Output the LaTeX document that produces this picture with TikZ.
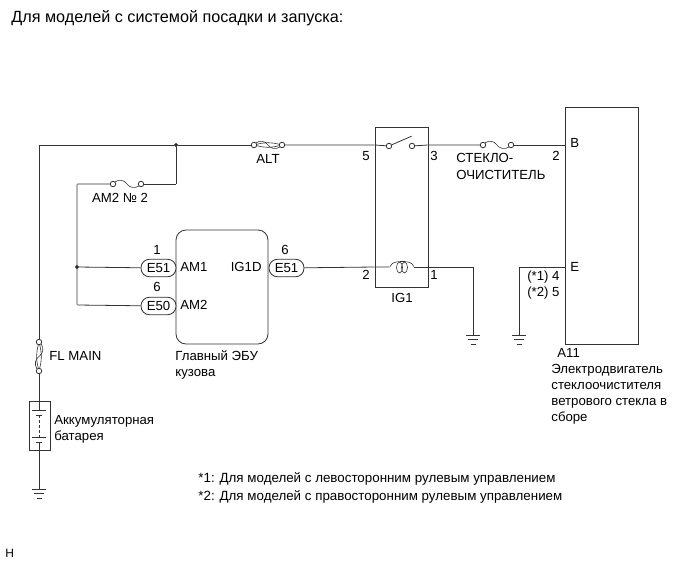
\documentclass[tikz,border=0pt]{standalone}
\usepackage{fontspec}
\usetikzlibrary{shapes.geometric}
\setmainfont{Liberation Sans}
\begin{document}
\begin{tikzpicture}[x=1pt, y=-1pt, line width=0.8pt, black!80,
  txt/.style = {inner sep=0pt, anchor=base west, text=black, font=\fontsize{13.2}{15}\selectfont},
  txtr/.style = {txt, anchor=base east},
  txtc/.style = {txt, anchor=base},
  term/.style = {draw, circle, fill=white, inner sep=0pt, minimum size=5.5pt},
  dot/.style = {draw, circle, fill=black, inner sep=0pt, minimum size=3pt},
  pt/.style = {inner sep=0pt, minimum size=0pt},
  loopy/.style = {draw, ellipse, inner sep=0pt, minimum width=6pt, minimum height=11pt, line width=0.6pt},
  conn/.style = {draw, fill=white, rounded corners=8.5pt, minimum width=35pt, minimum height=17.5pt, inner sep=0pt, text=black, font=\fontsize{13.2}{15}\selectfont}]
  \useasboundingbox (0,0) rectangle (691,562);
  % boxes
  \draw[rounded corners=10pt] (176,230) rectangle (268,344);
  \draw (375,127) rectangle (428,287);
  \draw (565,107) rectangle (638,344);
  \draw (29,401) rectangle (50,450);
  % junctions and corners
  \node[dot] (j1) at (176,145) {};
  \node[dot] (j2) at (77,267) {};
  \node[pt] (c1) at (39,145) {};
  \node[pt] (c2) at (176,184) {};
  \node[pt] (c3) at (77,184) {};
  \node[pt] (c4) at (77,305) {};
  \node[pt] (c5) at (473,267) {};
  \node[pt] (c6) at (519,267) {};
  % fuses
  \node[term] (alt1) at (254,145) {};
  \node[pt] (altm) at (268,145) {};
  \node[term] (alt2) at (282,145) {};
  \node[term] (am1) at (113,184) {};
  \node[pt] (amm) at (127,184) {};
  \node[term] (am2) at (141,184) {};
  \node[term] (wip1) at (483,145) {};
  \node[pt] (wipm) at (497,145) {};
  \node[term] (wip2) at (511,145) {};
  \node[term] (fl1) at (39,342) {};
  \node[pt] (flm) at (39,356.5) {};
  \node[term] (fl2) at (39,371) {};
  % relay
  \node[term] (sw1) at (389,146) {};
  \node[term] (sw2) at (412,146) {};
  \node[pt] (lever) at (412,136) {};
  \node[pt] (r5) at (375,145) {};
  \node[pt] (r3) at (428,145) {};
  \node[pt] (r2) at (375,267) {};
  \node[pt] (r1) at (428,267) {};
  \node[pt] (coil1) at (390,267) {};
  \node[pt] (coil2) at (414,267) {};
  \node[loopy] (cl1) at (399.5,267.5) {};
  \node[loopy] (cl2) at (404.5,267.5) {};
  % motor
  \node[pt] (mb) at (565,145) {};
  \node[pt] (me) at (565,267) {};
  % battery
  \node[pt] (battop) at (39,401) {};
  \node[pt] (batbot) at (39,450) {};
  \node[pt] (p1) at (32,410) {};
  \node[pt] (p2) at (46,410) {};
  \node[pt] (p3) at (36,415) {};
  \node[pt] (p4) at (42,415) {};
  \node[pt] (p5) at (32,437) {};
  \node[pt] (p6) at (46,437) {};
  \node[pt] (p7) at (36,442) {};
  \node[pt] (p8) at (42,442) {};
  \node[pt] (p9) at (39,410) {};
  \node[pt] (p10) at (39,437) {};
  \node[pt] (p11) at (39,415) {};
  \node[pt] (p12) at (39,442) {};
  % plugs
  \node[conn] (e51a) at (158.5,268) {E51};
  \node[conn] (e50) at (158.5,306) {E50};
  \node[conn] (e51b) at (286.5,268) {E51};
  % grounds
  \node[pt] (g1) at (473,335) {};
  \node[pt] (g2) at (519,335) {};
  \node[pt] (g3) at (39,489) {};
  % wires
  \draw (fl1) -- (c1) -- (j1) -- (alt1);
  \draw (alt2) -- (r5) -- (sw1);
  \draw (sw2) -- (r3) -- (wip1);
  \draw (sw1) -- (lever);
  \draw (wip2) -- (mb);
  \draw (j1) -- (c2) -- (am2);
  \draw (am1) -- (c3) -- (c4) -- (e50);
  \draw (j2) -- (e51a);
  \draw (e51b) -- (r2) -- (coil1);
  \draw (coil2) -- (r1) -- (c5) -- (g1);
  \draw (me) -- (c6) -- (g2);
  \draw (fl2) -- (battop);
  \draw (batbot) -- (g3);
  % fuse links
  \foreach \a/\m/\b in {am1/amm/am2, wip1/wipm/wip2, alt1/altm/alt2, fl1/flm/fl2} {
    \draw[line width=0.6pt] (\a) to [bend left=45] (\m) to [bend right=45] (\b);
  }
  \foreach \a/\b in {alt1/alt2, fl1/fl2} {
    \draw[line width=0.6pt] (\a) to [bend left=14] (\b);
    \draw[line width=0.6pt] (\a) to [bend right=14] (\b);
  }
  % coil
  \draw[line width=0.6pt] (coil1) to [out=70,in=180] (cl1.north);
  \draw[line width=0.6pt] (cl1.north) to (cl2.north);
  \draw[line width=0.6pt] (cl2.north) to [out=0,in=110] (coil2);
  % battery plates
  \draw (p1) -- (p2);
  \draw (p3) -- (p4);
  \draw (p5) -- (p6);
  \draw (p7) -- (p8);
  \draw (battop) -- (p9);
  \draw (p12) -- (batbot);
  \draw[densely dashed, line width=0.6pt] (p11) -- (p10);
  % earth symbols
  \foreach \g in {g1, g2, g3} {
    \draw (\g) ++(-7,0) -- ++(14,0);
    \draw[line width=0.6pt] (\g) ++(-5,4.5) -- ++(10,0);
    \draw[line width=0.6pt] (\g) ++(-2.5,9) -- ++(5,0);
  }
  % labels
  \node[txt, font=\fontsize{16.2}{18}\selectfont] (title) at (11,23) {Для моделей с системой посадки и запуска:};
  \node[txtc] (altl) at (268,163) {ALT};
  \node[txtc] (aml) at (120,202) {AM2 № 2};
  \node[txtc] (n1) at (157,254) {1};
  \node[txtc] (n2) at (157,291) {6};
  \node[txtc] (n3) at (285,254) {6};
  \node[txt] (am1l) at (180,271) {AM1};
  \node[txt] (am2l) at (180,309) {AM2};
  \node[txtr] (igl) at (262,271) {IG1D};
  \node[txt] (ecu1) at (175,360) {Главный ЭБУ};
  \node[txt] (ecu2) at (175,376) {кузова};
  \node[txt] (flt) at (49,360) {FL MAIN};
  \node[txt] (bat1) at (54,424) {Аккумуляторная};
  \node[txt] (bat2) at (54,440) {батарея};
  \node[txtc] (n5) at (366,160) {5};
  \node[txtc] (n6) at (434,160) {3};
  \node[txtc] (n7) at (366,279) {2};
  \node[txtc] (n8) at (434,279) {1};
  \node[txtc] (ig1) at (402,302) {IG1};
  \node[txt] (wl1) at (456,162) {СТЕКЛО-};
  \node[txt] (wl2) at (456,179) {ОЧИСТИТЕЛЬ};
  \node[txtc] (n9) at (556,160) {2};
  \node[txt] (bl) at (570,147) {B};
  \node[txt] (el) at (570,271) {E};
  \node[txtr] (st1) at (560,280) {(*1) 4};
  \node[txtr] (st2) at (560,296) {(*2) 5};
  \node[txt] (m1) at (557,357) {A11};
  \node[txt] (m2) at (551,373) {Электродвигатель};
  \node[txt] (m3) at (551,389) {стеклоочистителя};
  \node[txt] (m4) at (551,405) {ветрового стекла в};
  \node[txt] (m5) at (551,421) {сборе};
  \node[txt, font=\fontsize{13.35}{15}\selectfont] (f1) at (198,482) {*1: Для моделей с левосторонним рулевым управлением};
  \node[txt, font=\fontsize{13.35}{15}\selectfont] (f2) at (198,500) {*2: Для моделей с правосторонним рулевым управлением};
  \node[txt, font=\fontsize{12}{14}\selectfont] (h) at (5,557) {H};
\end{tikzpicture}
\end{document}
